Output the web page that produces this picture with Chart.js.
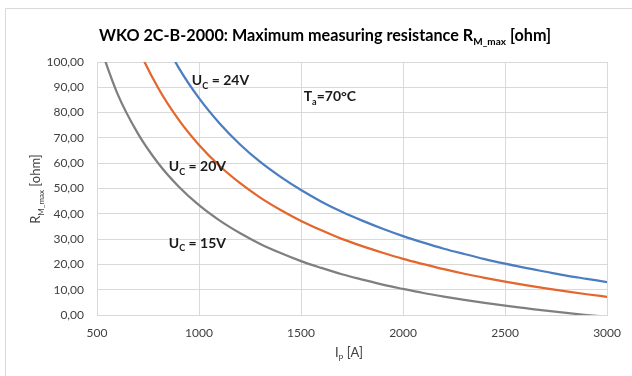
<!DOCTYPE html>
<html>
<head>
<meta charset="utf-8">
<script src="https://cdn.jsdelivr.net/npm/chart.js@4"></script>
<style>
  html, body { margin: 0; padding: 0; background: #fff; }
  #wrap { width: 632px; height: 376px; position: relative; }
</style>
</head>
<body>
<div id="wrap"><canvas id="chart" width="632" height="376"></canvas></div>
<script>
// Primary current I_P [A]
const currents = [500, 600, 700, 800, 900, 1000, 1100, 1200, 1300, 1400, 1500, 1600, 1700,
  1800, 1900, 2000, 2100, 2200, 2300, 2400, 2500, 2600, 2700, 2800, 2900, 3000];

// R_M_max [ohm]
const u24 = [null, null, null, 112.9, 97.8, 85.7, 75.8, 67.5, 60.5, 54.6, 49.4, 44.8, 40.8,
  37.3, 34.1, 31.2, 28.6, 26.2, 24.1, 22.1, 20.3, 18.6, 17.1, 15.6, 14.3, 13.0];
const u20 = [null, 127.2, 105.8, 89.7, 77.2, 67.2, 59.0, 52.2, 46.4, 41.5, 37.2, 33.5, 30.1,
  27.2, 24.6, 22.2, 20.1, 18.1, 16.3, 14.7, 13.2, 11.8, 10.5, 9.3, 8.2, 7.2];
const u15 = [109.6, 87.5, 71.8, 60.0, 50.8, 43.4, 37.4, 32.4, 28.1, 24.5, 21.3, 18.6, 16.1,
  14.0, 12.0, 10.3, 8.7, 7.3, 6.0, 4.8, 3.7, 2.7, 1.7, 0.8, 0.0, -0.7];

const xTicks = [500, 1000, 1500, 2000, 2500, 3000];
const yTicks = [0, 10, 20, 30, 40, 50, 60, 70, 80, 90, 100];

const FONT = "Lato, 'Open Sans', sans-serif";

// Curve labels: [parts, I, R]
const notes = [
  [[["U", 0], ["C", 1], [" = 24V", 0]], 965, 92.6],
  [[["T", 0], ["a", 1], ["=70°C", 0]], 1513, 86.4],
  [[["U", 0], ["C", 1], [" = 20V", 0]], 852, 58.6],
  [[["U", 0], ["C", 1], [" = 15V", 0]], 852, 28.4],
];

const pts = arr => currents.map((c, i) => ({ x: c, y: arr[i] }));

// text with subscripts
function richText(ctx, parts, x, y, size, weight, align) {
  const big = weight + " " + size + "px " + FONT;
  const small = weight + " " + Math.round(size * 0.62) + "px " + FONT;
  let w = 0;
  parts.forEach(([t, s]) => { ctx.font = s ? small : big; w += ctx.measureText(t).width; });
  let cx = align === "center" ? x - w / 2 : x;
  ctx.textAlign = "left";
  ctx.textBaseline = "middle";
  parts.forEach(([t, s]) => {
    ctx.font = s ? small : big;
    ctx.fillText(t, cx, s ? y + size * 0.38 : y);
    cx += ctx.measureText(t).width;
  });
}

const decor = {
  id: "decor",
  beforeDraw(chart) {
    const ctx = chart.ctx;
    ctx.save();
    ctx.fillStyle = "#fff";
    ctx.fillRect(0, 0, chart.width, chart.height);
    ctx.strokeStyle = "#d9d9d9";
    ctx.lineWidth = 1;
    ctx.beginPath();
    ctx.moveTo(5.5, chart.height);
    ctx.lineTo(5.5, 8.5);
    ctx.lineTo(chart.width, 8.5);
    ctx.stroke();
    ctx.restore();
  },
  afterDraw(chart) {
    const ctx = chart.ctx;
    const xs = chart.scales.x, ys = chart.scales.y;
    ctx.save();
    ctx.fillStyle = "#000";
    richText(ctx, [["WKO 2C-B-2000: Maximum measuring resistance R", 0], ["M_max", 1], [" [ohm]", 0]],
      325, 36, 16.2, "bold", "center");
    ctx.fillStyle = "#404040";
    richText(ctx, [["I", 0], ["P", 1], [" [A]", 0]], 349, 353, 13, "normal", "center");
    ctx.translate(36, 189);
    ctx.rotate(-Math.PI / 2);
    richText(ctx, [["R", 0], ["M_max", 1], [" [ohm]", 0]], 0, 0, 13, "normal", "center");
    ctx.restore();

    ctx.save();
    ctx.fillStyle = "#1a1a1a";
    notes.forEach(([parts, i, r]) => {
      richText(ctx, parts, xs.getPixelForValue(i), ys.getPixelForValue(r), 14, "bold", "left");
    });
    ctx.restore();
  }
};

const line = (label, arr, color) => ({
  label,
  data: pts(arr),
  borderColor: color,
  borderWidth: 2.25,
  pointRadius: 0,
  tension: 0.4,
  cubicInterpolationMode: "monotone",
  clip: 0,
  fill: false
});

new Chart(document.getElementById("chart"), {
  type: "line",
  data: {
    datasets: [
      line("Uc = 24V", u24, "#4A7EC0"),
      line("Uc = 20V", u20, "#E4662C"),
      line("Uc = 15V", u15, "#7F7F7F"),
    ]
  },
  options: {
    responsive: false,
    animation: false,
    layout: { padding: { left: 0, right: 24, top: 62, bottom: 0 } },
    plugins: { legend: { display: false }, title: { display: false }, tooltip: { enabled: false } },
    scales: {
      x: {
        type: "linear",
        min: 500, max: 3000,
        afterFit: s => { s.height = 61; },
        afterBuildTicks: s => { s.ticks = xTicks.map(v => ({ value: v })); },
        grid: { color: "#d9d9d9", drawTicks: false },
        border: { color: "#d9d9d9" },
        ticks: {
          padding: 11, color: "#404040", font: { family: FONT, size: 12 },
          callback: v => String(v)
        }
      },
      y: {
        min: 0, max: 100,
        afterFit: s => { s.width = 97; },
        afterBuildTicks: s => { s.ticks = yTicks.map(v => ({ value: v })); },
        grid: { color: "#d9d9d9", drawTicks: false },
        border: { color: "#d9d9d9" },
        ticks: {
          padding: 13, color: "#404040", font: { family: FONT, size: 12 },
          callback: v => v.toFixed(2).replace(".", ",")
        }
      }
    }
  },
  plugins: [decor]
});
</script>
</body>
</html>
